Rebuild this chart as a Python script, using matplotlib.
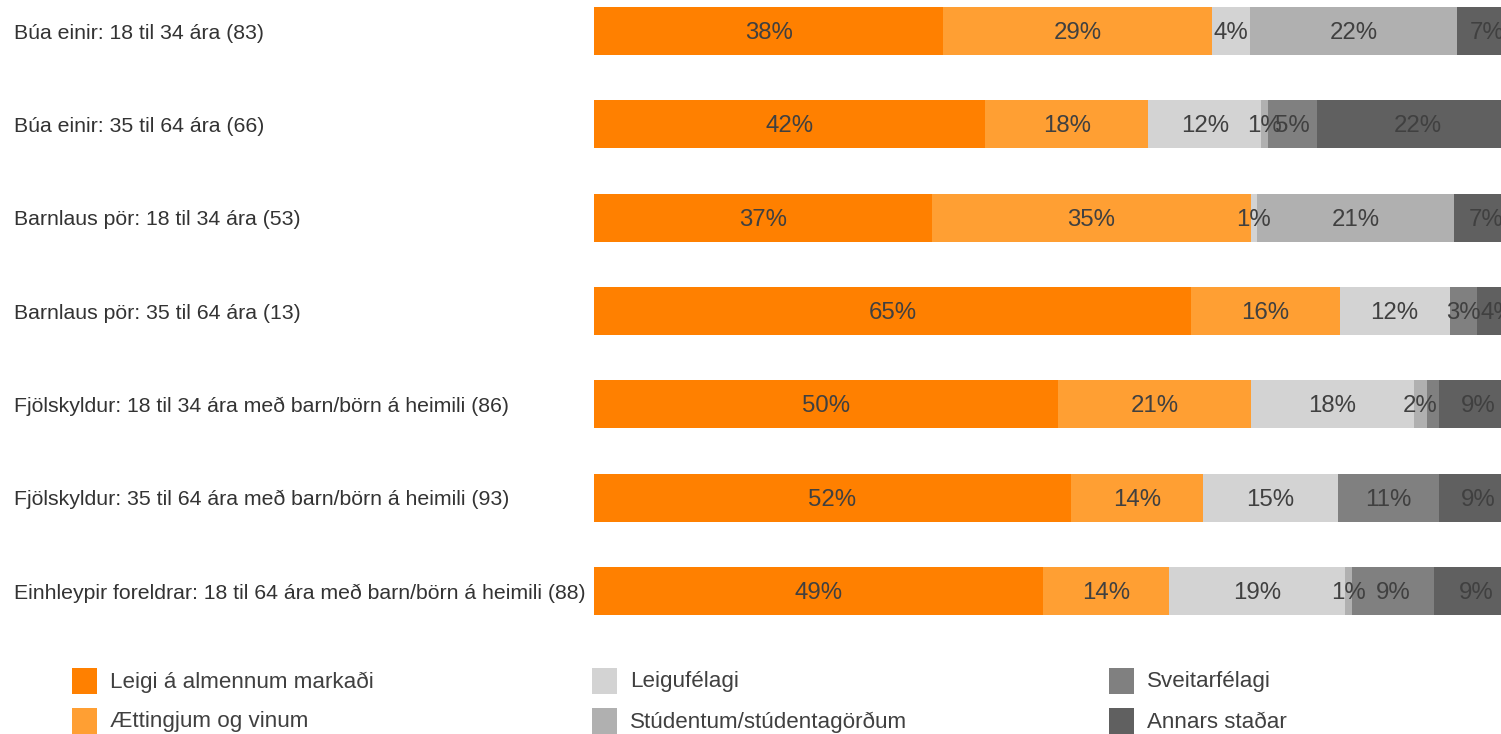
import matplotlib
matplotlib.use("Agg")
import matplotlib.pyplot as plt
from matplotlib.patches import Rectangle
from matplotlib.transforms import blended_transform_factory
import numpy as np

plt.rcParams['font.family'] = ['Liberation Sans', 'DejaVu Sans']

categories = [
    "Búa einir: 18 til 34 ára (83)",
    "Búa einir: 35 til 64 ára (66)",
    "Barnlaus pör: 18 til 34 ára (53)",
    "Barnlaus pör: 35 til 64 ára (13)",
    "Fjölskyldur: 18 til 34 ára með barn/börn á heimili (86)",
    "Fjölskyldur: 35 til 64 ára með barn/börn á heimili (93)",
    "Einhleypir foreldrar: 18 til 64 ára með barn/börn á heimili (88)",
]

series_names = [
    "Leigi á almennum markaði",
    "Ættingjum og vinum",
    "Leigufélagi",
    "Stúdentum/stúdentagörðum",
    "Sveitarfélagi",
    "Annars staðar",
]

leigi_almennum = [37.8, 42.3, 36.6, 64.6, 50.2, 51.6, 48.6]
aettingjum     = [29.1, 17.7, 34.5, 16.1, 20.9, 14.3, 13.6]
leigufelagi    = [4.1, 12.2, 0.6, 11.9, 17.6, 14.6, 19.1]
studentum      = [22.4, 0.7, 21.4, 0.0, 1.4, 0.0, 0.7]
sveitarfelagi  = [0.0, 5.4, 0.0, 3.0, 1.3, 10.9, 8.9]
annars         = [6.6, 21.7, 6.9, 4.4, 8.6, 8.6, 9.1]

bar_labels = [
    ["38%", "29%", "4%", "22%", "", "7%"],
    ["42%", "18%", "12%", "1%", "5%", "22%"],
    ["37%", "35%", "1%", "21%", "", "7%"],
    ["65%", "16%", "12%", "", "3%", "4%"],
    ["50%", "21%", "18%", "2%", "", "9%"],
    ["52%", "14%", "15%", "", "11%", "9%"],
    ["49%", "14%", "19%", "1%", "9%", "9%"],
]

colors = ["#FF8000", "#FF9F33", "#D3D3D3", "#B0B0B0", "#808080", "#606060"]

series = [leigi_almennum, aettingjum, leigufelagi, studentum, sveitarfelagi, annars]

W, H = 1501, 734
fig = plt.figure(figsize=(W / 100, H / 100), dpi=100)

ax_left, ax_right = 594, 1518
pitch = 93.33
top_px = 31 - pitch / 2
bot_px = 591 + pitch / 2
ax = fig.add_axes([ax_left / W, (H - bot_px) / H, (ax_right - ax_left) / W, (bot_px - top_px) / H])
ax.set_xlim(0, 100)
ax.set_ylim(len(categories) - 0.5, -0.5)
ax.axis('off')

y = np.arange(len(categories))
left = np.zeros(len(categories))
bar_h = 48 / pitch
txt_dy = 2 / pitch
for si, vals in enumerate(series):
    vals = np.array(vals)
    ax.barh(y, vals, left=left, height=bar_h, color=colors[si], linewidth=0)
    for ri in range(len(categories)):
        lab = bar_labels[ri][si]
        if lab:
            ax.text(left[ri] + vals[ri] / 2, y[ri] + txt_dy, lab, ha='center', va='center',
                    fontsize=17.3, color='#404040', clip_on=False)
    left += vals

tr = blended_transform_factory(fig.transFigure, ax.transData)
for ri, cat in enumerate(categories):
    ax.text(14 / W, y[ri] + txt_dy, cat, transform=tr, ha='left', va='center',
            fontsize=15.3, color='#333333')

col_x = [72, 592, 1109]
row_y = [681, 721]
for i, name in enumerate(series_names):
    c, r = divmod(i, 2)
    x0 = col_x[c]
    yc = row_y[r]
    fig.patches.append(Rectangle((x0 / W, (H - yc - 13) / H), 25 / W, 26 / H,
                                 transform=fig.transFigure, facecolor=colors[i],
                                 edgecolor='none'))
    fig.text((x0 + 38) / W, (H - yc - 1) / H, name, ha='left', va='center',
             fontsize=16.1, color='#404040')

fig.savefig("out.png", dpi=100)
